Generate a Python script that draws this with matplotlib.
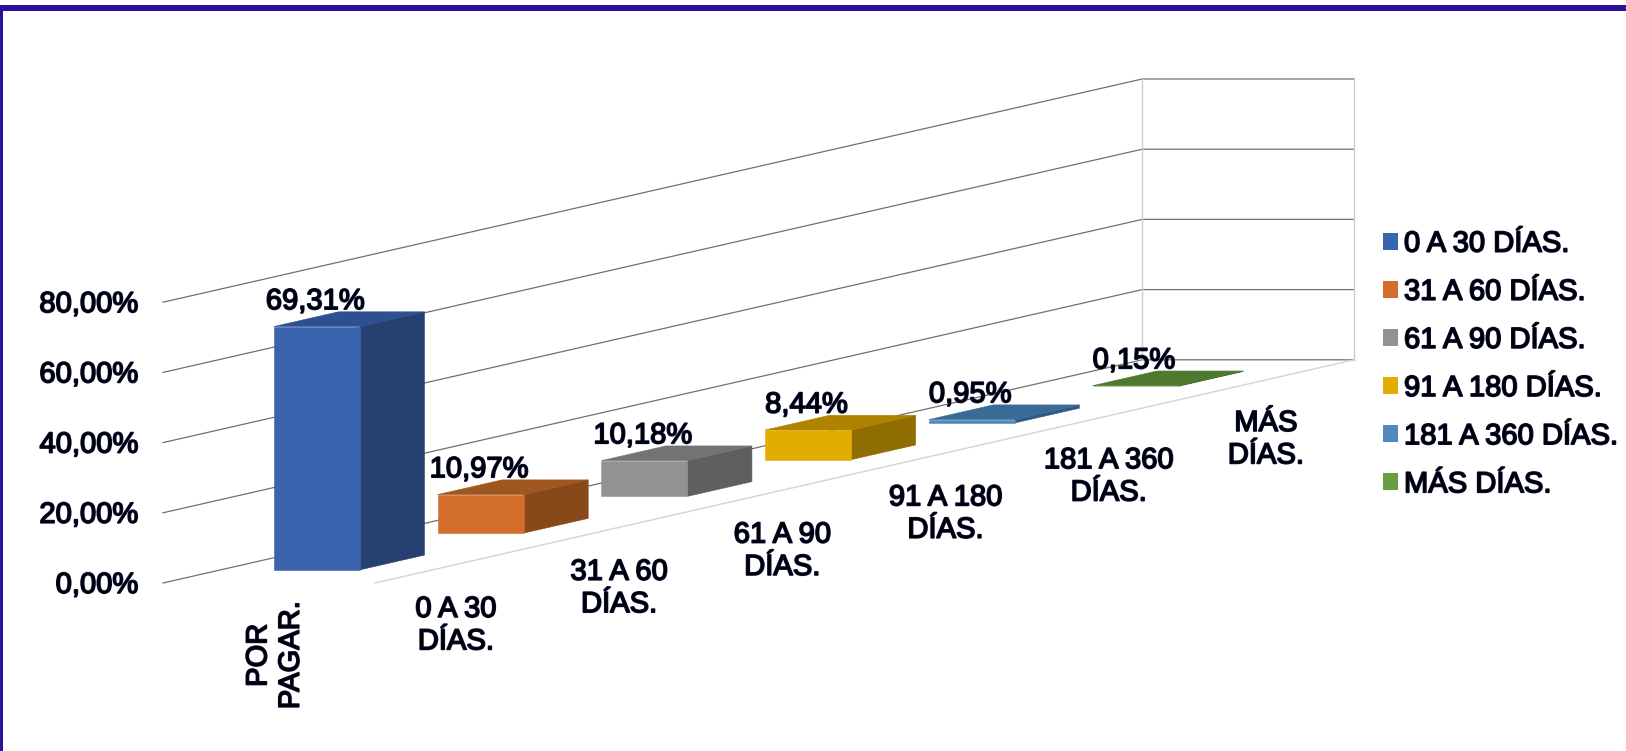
import matplotlib
matplotlib.use("Agg")
import matplotlib.pyplot as plt
import matplotlib.patheffects as pe
from matplotlib.patches import Polygon, Patch, Rectangle

plt.rcParams['font.family'] = ['Liberation Sans', 'DejaVu Sans']

# ---- data ----
categories = ["POR\nPAGAR.", "0 A 30\nDÍAS.", "31 A 60\nDÍAS.", "61 A 90\nDÍAS.",
              "91 A 180\nDÍAS.", "181 A 360\nDÍAS.", "MÁS\nDÍAS."]
values = [69.31, 10.97, 10.18, 8.44, 0.95, 0.15]
value_labels = ["69,31%", "10,97%", "10,18%", "8,44%", "0,95%", "0,15%"]
y_ticks = [0, 20, 40, 60, 80]
y_tick_labels = ["0,00%", "20,00%", "40,00%", "60,00%", "80,00%"]
legend_labels = ["0 A 30 DÍAS.", "31 A 60 DÍAS.", "61 A 90 DÍAS.",
                 "91 A 180 DÍAS.", "181 A 360 DÍAS.", "MÁS DÍAS."]
front_colors = ["#3A64AD", "#D26D2A", "#929292", "#E3AC00", "#4F89BE", "#66A03E"]
top_colors = ["#2F5090", "#A0561F", "#737373", "#AD8300", "#3A6A96", "#4E7A2F"]
side_colors = ["#264070", "#87481A", "#5F5F5F", "#8F6D00", "#2F5A85", "#3F6426"]

# ---- oblique projection of (category, depth, value) onto the canvas ----
ORIGIN = (163.0, 583.0)
CAT_VEC = (163.2, -37.2)
DEPTH_VEC = (212.0, 0.0)
VALUE_PX = 3.51
N_SLOTS = 6
CAT_START, CAT_STEP, CAT_WIDTH = 0.355, 0.987, 0.395
DEPTH_START, DEPTH_DRIFT, DEPTH_WIDTH = 0.25, 0.0125, 0.406


def P(c, d, v):
    return (ORIGIN[0] + c * CAT_VEC[0] + d * DEPTH_VEC[0],
            ORIGIN[1] + c * CAT_VEC[1] + d * DEPTH_VEC[1] - v * VALUE_PX)


fig = plt.figure(figsize=(16.26, 7.51), dpi=100, facecolor="white")
ax = fig.add_axes([0, 0, 1, 1])
ax.set_xlim(0, 1626)
ax.set_ylim(751, 0)
ax.axis("off")

FS = 21.0
halo = [pe.withStroke(linewidth=1.2, foreground="#0A1040")]


def label(x, y, s, **kw):
    kw.setdefault("ha", "center")
    kw.setdefault("va", "center")
    t = ax.text(x, y, s, fontsize=FS, color="black", linespacing=1.2, zorder=10, **kw)
    t.set_path_effects(halo)
    return t


# frame
ax.add_patch(Rectangle((0, 5), 1626, 5.5, color="#2E0F9A", lw=0, zorder=0))
ax.add_patch(Rectangle((0, 5), 3, 746, color="#2E0F9A", lw=0, zorder=0))

# walls and grid
for v in y_ticks:
    a, b, e = P(0, 0, v), P(N_SLOTS, 0, v), P(N_SLOTS, 1, v)
    ax.plot([a[0], b[0], e[0]], [a[1], b[1], e[1]], color="#707070", lw=0.9, zorder=1)
for d in (0, 1):
    a, b = P(N_SLOTS, d, y_ticks[0]), P(N_SLOTS, d, y_ticks[-1])
    ax.plot([a[0], b[0]], [a[1], b[1]], color="#CDCDCD", lw=1.0, zorder=1)
a, b = P(0, 1, 0), P(N_SLOTS, 1, 0)
ax.plot([a[0], b[0]], [a[1], b[1]], color="#D4D4D4", lw=1.0, zorder=1)

# bars
for i, v in enumerate(values):
    c0 = CAT_START + CAT_STEP * i
    c1 = c0 + CAT_WIDTH
    d0 = DEPTH_START + DEPTH_DRIFT * i
    d1 = d0 + DEPTH_WIDTH
    ax.add_patch(Polygon([P(c0, d1, 0), P(c1, d1, 0), P(c1, d1, v), P(c0, d1, v)],
                         fc=side_colors[i], ec=side_colors[i], lw=0.4, zorder=3))
    ax.add_patch(Polygon([P(c0, d0, v), P(c0, d1, v), P(c1, d1, v), P(c1, d0, v)],
                         fc=top_colors[i], ec=top_colors[i], lw=0.4, zorder=3))
    ax.add_patch(Polygon([P(c0, d0, 0), P(c0, d1, 0), P(c0, d1, v), P(c0, d0, v)],
                         fc=front_colors[i], ec=front_colors[i], lw=0.4, zorder=4))
    tx, ty = P(c0 + CAT_WIDTH / 2, d0 + DEPTH_WIDTH / 2, v)
    label(tx - 34, ty - 18, value_labels[i])

# value axis labels
for v, s in zip(y_ticks, y_tick_labels):
    x, y = P(0, 0, v)
    label(x - 25, y + 2, s, ha="right")

# category labels
for i, s in enumerate(categories):
    x, y = P(i + 0.5, 1, 0)
    if i == 0:
        label(x - 182, y + 91, s, rotation=90)
    elif i == len(categories) - 1:
        label(x - 170, y + 98, s)
    else:
        label(x - 164, y + 98, s)

# legend
handles = [Patch(fc=c, ec="none") for c in front_colors]
leg = ax.legend(handles, legend_labels, loc="center left", bbox_to_anchor=(1383 / 1626, 1 - 364 / 751),
                frameon=False, fontsize=FS, handlelength=0.52, handleheight=0.52,
                handletextpad=0.2, labelspacing=0.69, borderpad=0, borderaxespad=0)
for t in leg.get_texts():
    t.set_path_effects(halo)
    t.set_color("black")

fig.savefig("out.png", dpi=100)
